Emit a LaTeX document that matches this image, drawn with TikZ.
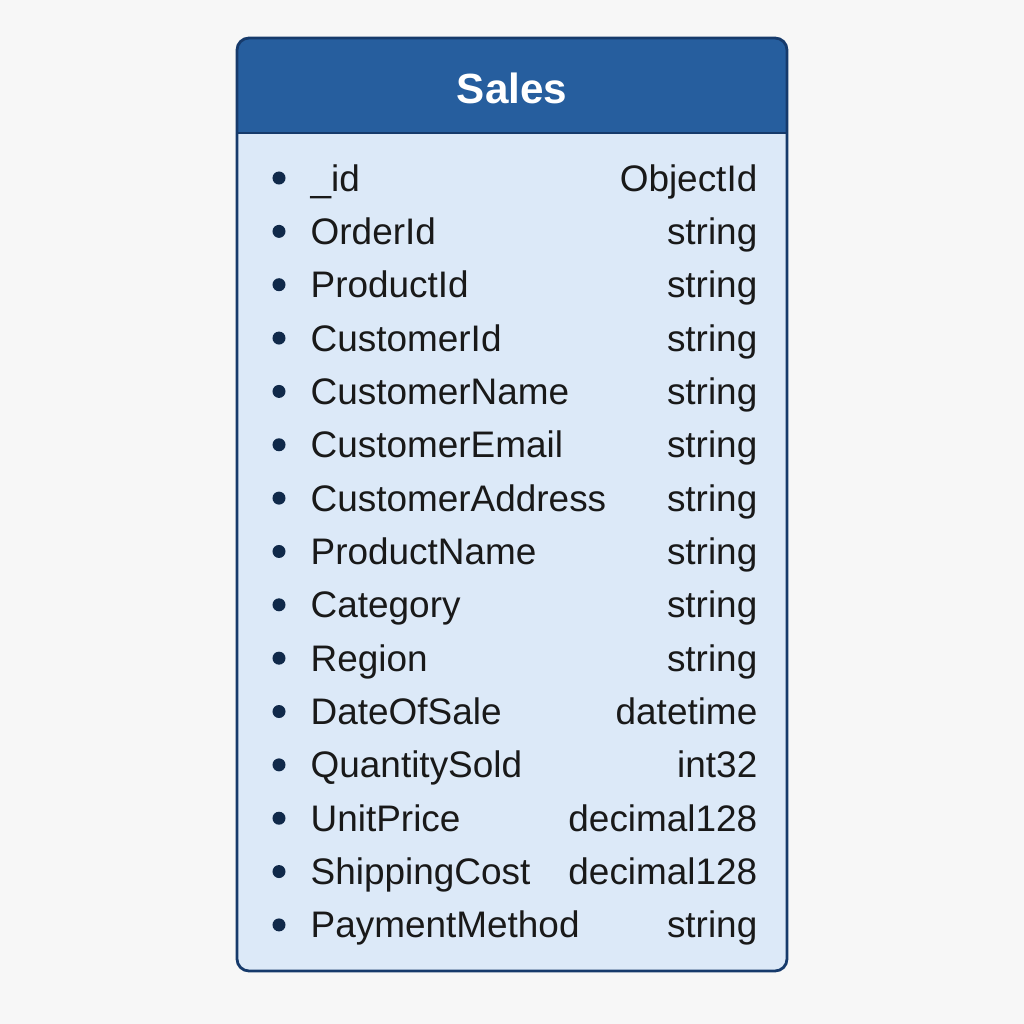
\documentclass[tikz,border=0pt]{standalone}
\usepackage{fontspec}
\setmainfont{Liberation Sans}
\definecolor{pagebg}{HTML}{F7F7F7}
\definecolor{headblue}{HTML}{265E9E}
\definecolor{bodyblue}{HTML}{DCE9F8}
\definecolor{edgeblue}{HTML}{163A6B}
\definecolor{dotblue}{HTML}{10294A}
\begin{document}
\begin{tikzpicture}[x=0.01cm,y=0.01cm,
    field/.style = {anchor=base west, inner sep=0, text=black!90, font=\fontsize{10.5}{12}\selectfont},
    ftype/.style = {anchor=base east, inner sep=0, text=black!90, font=\fontsize{10.5}{12}\selectfont},
    bullet/.style = {circle, fill=dotblue, inner sep=0, minimum size=0.13cm}]
    \fill[pagebg] (0,0) rectangle (1024,-1024);
    \useasboundingbox (0,0) rectangle (1024,-1024);
    % table box
    \fill[bodyblue, rounded corners=0.12cm] (237,-38) rectangle (787,-971);
    \fill[headblue] (237,-133) -- (237,-50) arc(180:90:12) -- (775,-38) arc(90:0:12) -- (787,-133) -- cycle;
    \draw[edgeblue, line width=0.6pt] (237,-133) -- (787,-133);
    \draw[edgeblue, line width=0.8pt, rounded corners=0.12cm] (237,-38) rectangle (787,-971);
    \node[text=white, font=\fontsize{12}{14}\selectfont\bfseries] (title) at (512,-88) {Sales};
    % fields
    \foreach \name/\type [count=\i] in {\_id/ObjectId, OrderId/string, ProductId/string,
        CustomerId/string, CustomerName/string, CustomerEmail/string,
        CustomerAddress/string, ProductName/string, Category/string, Region/string,
        DateOfSale/datetime, QuantitySold/int32, UnitPrice/decimal128,
        ShippingCost/decimal128, PaymentMethod/string} {
        \node[bullet] (d\i) at (279,{-178-53.35*(\i-1)}) {};
        \node[field] (f\i) at (310,{-191-53.35*(\i-1)}) {\name};
        \node[ftype] (t\i) at (758,{-191-53.35*(\i-1)}) {\type};
    }
\end{tikzpicture}
\end{document}
